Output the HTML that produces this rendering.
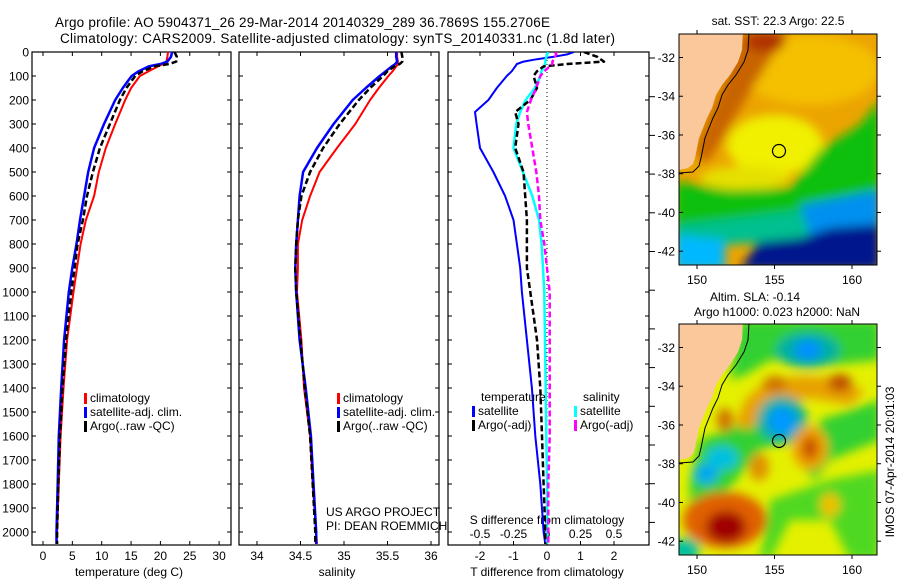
<!DOCTYPE html>
<html><head><meta charset="utf-8"><style>
html,body{margin:0;padding:0;background:#fff;}
svg{display:block;font-family:"Liberation Sans",sans-serif;}
</style></head><body>
<svg id="chart" width="900" height="580" viewBox="0 0 900 580">
<defs>
<clipPath id="c1"><rect x="32" y="52" width="199" height="493"/></clipPath>
<clipPath id="c2"><rect x="239" y="52" width="200" height="493"/></clipPath>
<clipPath id="c3"><rect x="448" y="52" width="201" height="493"/></clipPath>
<clipPath id="m1"><rect x="679" y="34" width="198" height="231"/></clipPath>
<clipPath id="m2"><rect x="679" y="324" width="198" height="231"/></clipPath>
<filter id="bl" x="-20%" y="-20%" width="140%" height="140%"><feGaussianBlur stdDeviation="5"/></filter>
</defs>
<text x="55" y="27" font-size="13.5" textLength="495">Argo profile: AO 5904371_26 29-Mar-2014 20140329_289 36.7869S 155.2706E</text>
<text x="60" y="43" font-size="13.5" textLength="555">Climatology: CARS2009. Satellite-adjusted climatology: synTS_20140331.nc (1.8d later)</text>

<!-- Map 1 SST -->
<g>
<text x="778" y="25" font-size="12" text-anchor="middle">sat. SST: 22.3 Argo: 22.5</text>
<g clip-path="url(#m1)">
<rect x="679" y="34" width="198" height="231" fill="#eca400"/>
<g filter="url(#bl)">
<ellipse cx="810" cy="70" rx="70" ry="35" fill="#f4c000"/>
<polygon points="745,30 790,30 770,60 745,100 722,140 705,165 695,150 720,90" fill="#c86400"/>
<ellipse cx="765" cy="42" rx="20" ry="10" fill="#b03000"/>
<ellipse cx="775" cy="145" rx="48" ry="30" fill="#f0f000"/>
<ellipse cx="745" cy="178" rx="45" ry="12" fill="#e6e000"/>
<polygon points="675,182 730,190 790,188 820,150 860,125 880,100 880,215 675,228" fill="#10c010"/>
<polygon points="675,225 760,215 880,200 880,235 675,248" fill="#00c090"/>
<polygon points="800,205 880,190 880,240 810,235" fill="#0090f0"/>
<polygon points="675,235 725,240 725,270 675,270" fill="#00b8ff"/>
<polygon points="740,270 758,242 800,238 830,228 880,224 880,270" fill="#00188c"/>
</g>
<polygon points="679,30 743,30 742,50 738,62 730,75 722,85 716,95 712,108 707,118 703,128 699,138 697,148 695,158 693,164 688,168 679,170" fill="#fac89a"/>
<polyline points="749,34 748,50 744,62 736,75 728,85 722,95 718,108 713,118 709,128 705,138 703,148 701,158 699,166 693,172 679,173" fill="none" stroke="#000" stroke-width="1"/>
<circle cx="779" cy="151" r="6.5" fill="none" stroke="#000" stroke-width="1.2"/>
</g>
<rect x="679" y="34" width="198" height="231" fill="none" stroke="#000"/>
</g>

<!-- Map 2 SLA -->
<g>
<text x="755" y="301" font-size="12" text-anchor="middle">Altim. SLA: -0.14</text>
<text x="777" y="316" font-size="12" text-anchor="middle">Argo h1000: 0.023 h2000: NaN</text>
<g clip-path="url(#m2)">
<rect x="679" y="324" width="198" height="231" fill="#e4f000"/>
<g filter="url(#bl)">
<polygon points="740,320 880,320 880,360 830,365 770,360 745,375 730,380" fill="#30d030"/>
<polygon points="690,480 700,440 740,425 760,400 800,395 790,440 760,450 720,500 690,505" fill="#30d030"/>
<polygon points="820,420 880,400 880,440 830,460 815,480 805,470" fill="#30d030"/>
<polygon points="770,500 830,480 880,470 880,560 850,560 830,520 790,520 770,560 760,560" fill="#50d820"/>
<ellipse cx="808" cy="350" rx="32" ry="18" fill="#00b0a0"/>
<ellipse cx="808" cy="350" rx="14" ry="10" fill="#0090ff"/>
<polygon points="735,425 745,400 765,382 800,376 840,378 865,392 850,405 810,398 770,405 750,430" fill="#e8a000"/>
<ellipse cx="840" cy="383" rx="12" ry="9" fill="#c05000"/>
<ellipse cx="775" cy="384" rx="12" ry="8" fill="#d07000"/>
<ellipse cx="725" cy="420" rx="8" ry="12" fill="#d07000"/>
<ellipse cx="782" cy="420" rx="25" ry="24" fill="#10b0a0"/>
<ellipse cx="782" cy="421" rx="14" ry="14" fill="#0098ff"/>
<ellipse cx="722" cy="458" rx="16" ry="12" fill="#00c0e0"/>
<ellipse cx="706" cy="474" rx="12" ry="10" fill="#00a8f0"/>
<ellipse cx="725" cy="520" rx="42" ry="28" fill="#e06000"/>
<ellipse cx="726" cy="527" rx="20" ry="16" fill="#a00000"/>
<ellipse cx="810" cy="448" rx="18" ry="22" fill="#f0a000"/>
<ellipse cx="810" cy="448" rx="8" ry="12" fill="#c85000"/>
<ellipse cx="759" cy="467" rx="10" ry="14" fill="#e09000"/>
<ellipse cx="685" cy="550" rx="15" ry="12" fill="#00c0a0"/>
<ellipse cx="830" cy="505" rx="10" ry="12" fill="#f0c000"/>
</g>
<polygon points="679,320 743,320 742,340 738,352 730,365 722,375 716,385 712,398 707,408 703,418 699,428 697,438 695,448 693,454 688,458 679,460" fill="#fac89a"/>
<polyline points="749,324 748,340 744,352 736,365 728,375 722,385 718,398 713,408 709,418 705,428 703,438 701,448 699,456 693,462 679,463" fill="none" stroke="#000" stroke-width="1"/>
<circle cx="779" cy="441" r="6.5" fill="none" stroke="#000" stroke-width="1.2"/>
</g>
<rect x="679" y="324" width="198" height="231" fill="none" stroke="#000"/>
</g>
<text transform="translate(894,462) rotate(-90)" font-size="12" text-anchor="middle">IMOS 07-Apr-2014 20:01:03</text>
<g id="dyn"></g>
</svg>
<script>
const depthTS = [0,20,40,50,60,80,100,150,200,300,400,500,600,700,800,900,1000,1200,1400,1600,1800,2000,2050];
const tempClim = [21.3,21.2,21.0,20.5,19.6,18.0,16.5,15.0,14.0,12.3,10.7,9.5,8.7,7.3,6.4,5.8,5.2,4.1,3.5,3.0,2.7,2.4,2.3];
const tempSat  = [22.0,21.8,21.2,20.0,18.0,16.3,15.1,13.6,12.3,10.4,8.7,7.7,7.0,6.3,5.7,5.0,4.4,3.6,3.1,2.7,2.5,2.3,2.3];
const tempArgo = [22.4,22.8,22.7,21.5,19.0,17.0,15.7,14.2,13.1,11.4,9.7,8.5,7.5,6.8,5.9,5.4,4.8,3.9,3.3,2.9,2.6,2.4,2.4];
const salClim = [35.61,35.61,35.62,35.62,35.60,35.56,35.51,35.40,35.30,35.13,34.92,34.72,34.61,34.52,34.47,34.47,34.46,34.51,34.54,34.61,34.64,34.68,34.69];
const salSat  = [35.60,35.60,35.61,35.59,35.55,35.48,35.41,35.25,35.10,34.88,34.69,34.53,34.49,34.47,34.45,34.44,34.45,34.49,34.56,34.62,34.65,34.68,34.68];
const salArgo = [35.66,35.67,35.67,35.64,35.58,35.50,35.45,35.30,35.17,34.95,34.76,34.61,34.51,34.47,34.45,34.44,34.45,34.50,34.55,34.61,34.64,34.67,34.67];
const depthDiff = [0,10,20,30,40,50,60,80,100,150,200,250,300,400,500,600,700,800,900,1000,1200,1400,1600,1800,2000,2050];
const dTsat  = [0.8,0.6,0.2,-0.3,-0.7,-0.9,-0.95,-1.05,-1.2,-1.5,-1.75,-2.15,-2.1,-2.0,-1.6,-1.25,-1.0,-0.9,-0.8,-0.75,-0.6,-0.45,-0.35,-0.2,-0.1,-0.05];
const dTargo = [1.1,1.3,1.5,1.6,1.7,0.6,-0.1,-0.3,-0.4,-0.3,-0.5,-0.95,-0.85,-0.95,-0.7,-0.65,-0.6,-0.6,-0.6,-0.5,-0.3,-0.2,-0.15,-0.1,-0.05,-0.05];
const dSsat  = [0.01,0.0,-0.005,-0.01,-0.012,-0.015,-0.02,-0.04,-0.05,-0.09,-0.16,-0.2,-0.23,-0.25,-0.18,-0.11,-0.06,-0.04,-0.03,-0.02,-0.015,-0.01,-0.005,0.0,0.0,0.0];
const dSargo = [0.06,0.07,0.06,0.05,0.04,0.04,0.02,-0.02,-0.05,-0.08,-0.12,-0.15,-0.14,-0.11,-0.08,-0.06,-0.05,-0.02,0.0,0.02,0.02,0.02,0.02,0.01,0.01,0.01];
const depthTicks = [0,100,200,300,400,500,600,700,800,900,1000,1100,1200,1300,1400,1500,1600,1700,1800,1900,2000];
const tempTicks = [0,5,10,15,20,25,30];
const salTicks = [34,34.5,35,35.5,36];
const dTTicks = [-2,-1,0,1,2];
const dSTicks = [-0.5,-0.25,0,0.25,0.5];
const latTicks = [-32,-34,-36,-38,-40,-42];
const lonTicks = [150,155,160];

const NS='http://www.w3.org/2000/svg';
const g=document.getElementById('dyn');
function el(t,a,p){const e=document.createElementNS(NS,t);for(const k in a)e.setAttribute(k,a[k]);(p||g).appendChild(e);return e;}
const yD = d => 52 + 0.24*d;
const xT = v => 43 + 5.87*v;
const xS = v => 257 + 87*(v-34);
const xdT = v => 547 + 33.5*v;
const xdS = v => 547 + 134*v;
const mapX = lon => 697 + 15.5*(lon-150);
const mapY = (lat,off) => off + 19.37*(-lat-32);

const panels=[{x:32,w:199,n:'temperature-panel'},{x:239,w:200,n:'salinity-panel'},{x:448,w:201,n:'difference-panel'}];
panels.forEach((p,i)=>{
  const r=el('rect',{x:p.x,y:52,width:p.w,height:493,fill:'none',stroke:'#000','stroke-width':1.2});
  
  
  depthTicks.forEach(d=>{
    el('line',{x1:p.x,x2:p.x+4,y1:yD(d),y2:yD(d),stroke:'#000'});
    el('line',{x1:p.x+p.w,x2:p.x+p.w-4,y1:yD(d),y2:yD(d),stroke:'#000'});
  });
});
depthTicks.forEach(d=>{
  const t=el('text',{x:29,y:yD(d)+4.5,'font-size':12,'text-anchor':'end'});t.textContent=d;
  
  
});
for(let y=58;y<546;y+=38.7) el('line',{x1:649,x2:655,y1:y,y2:y,stroke:'#000'});

function xAxis(ticks,fx,ylab,fmt){
  ticks.forEach(v=>{
    const x=fx(v);
    el('line',{x1:x,x2:x,y1:52,y2:56,stroke:'#000'});
    el('line',{x1:x,x2:x,y1:545,y2:541,stroke:'#000'});
    const t=el('text',{x:x,y:ylab,'font-size':12,'text-anchor':'middle'});t.textContent=fmt?fmt(v):v;
    
    
  });
}
xAxis(tempTicks,xT,560);
xAxis(salTicks,xS,560);
xAxis(dTTicks,xdT,560);
dSTicks.forEach(v=>{
  const t=el('text',{x:xdS(v),y:538,'font-size':12,'text-anchor':'middle'});t.textContent=v;
  
  
});
function lbl(x,y,s,name,anchor){const t=el('text',{x:x,y:y,'font-size':12,'text-anchor':anchor||'middle'});t.textContent=s;
  
  
  return t;}
lbl(129,576,'temperature (deg C)','x-axis-title-temperature');
lbl(337,576,'salinity','x-axis-title-salinity');
lbl(547,576,'T difference from climatology','x-axis-title-t-diff');
lbl(547,524,'S difference from climatology','x-axis-title-s-diff');

el('line',{x1:xdT(0),x2:xdT(0),y1:52,y2:545,stroke:'#000','stroke-dasharray':'1,3'});

function series(depths,vals,fx,color,dash,clip,name,w){
  const pts=depths.map((d,i)=>fx(vals[i]).toFixed(1)+','+yD(d).toFixed(1)).join(' ');
  const a={points:pts,fill:'none',stroke:color,'stroke-width':w||2.5,'clip-path':'url(#'+clip+')','stroke-linejoin':'round'};
  if(dash)a['stroke-dasharray']=dash;
  const l=el('polyline',a);
  
  
}
series(depthTS,tempClim,xT,'#ff0000',null,'c1','temp-climatology-line',2);
series(depthTS,tempSat,xT,'#0000ff',null,'c1','temp-satellite-line');
series(depthTS,tempArgo,xT,'#000',"6,3",'c1','temp-argo-line');
series(depthTS,salClim,xS,'#ff0000',null,'c2','sal-climatology-line',2);
series(depthTS,salSat,xS,'#0000ff',null,'c2','sal-satellite-line');
series(depthTS,salArgo,xS,'#000',"6,3",'c2','sal-argo-line');
series(depthDiff,dTsat,xdT,'#0000ff',null,'c3','t-diff-satellite-line',2);
series(depthDiff,dSsat,xdS,'#00ffff',null,'c3','s-diff-satellite-line');
series(depthDiff,dTargo,xdT,'#000',"6,3",'c3','t-diff-argo-line');
series(depthDiff,dSargo,xdS,'#ff00ff',"6,3",'c3','s-diff-argo-line');

function leg(x,y,color,txt,name){
  const r=el('rect',{x:x,y:y-9,width:3,height:11,fill:color});
  
  
  lbl(x+6,y,txt,name,'start');
}
[[84,'temp'],[337,'sal']].forEach(([x,n])=>{
  leg(x,402,'#ff0000','climatology',n+'-legend-climatology');
  leg(x,416,'#0000ff','satellite-adj. clim.',n+'-legend-satellite');
  leg(x,430,'#000','Argo(..raw -QC)',n+'-legend-argo');
});
lbl(481,401,'temperature','diff-legend-temp-header','start');
lbl(583,401,'salinity','diff-legend-sal-header','start');
leg(472,415,'#0000ff','satellite','diff-legend-temp-satellite');
leg(472,429,'#000','Argo(-adj)','diff-legend-temp-argo');
leg(574,415,'#00ffff','satellite','diff-legend-sal-satellite');
leg(574,429,'#ff00ff','Argo(-adj)','diff-legend-sal-argo');
lbl(326,516,'US ARGO PROJECT','project-credit','start');
lbl(326,530,'PI: DEAN ROEMMICH','pi-credit','start');

[34,324].forEach((top,mi)=>{
  const off = mi===0?57.5:347.5;
  latTicks.forEach(la=>{
    const y=mapY(la,off);
    el('line',{x1:679,x2:683,y1:y,y2:y,stroke:'#000'});
    el('line',{x1:877,x2:881,y1:y,y2:y,stroke:'#000'});
    lbl(675,y+4.5,la,'map-lat-label','end');
  });
  lonTicks.forEach(lo=>{
    const x=mapX(lo);
    el('line',{x1:x,x2:x,y1:top-4,y2:top,stroke:'#000'});
    el('line',{x1:x,x2:x,y1:top+231,y2:top+235,stroke:'#000'});
    lbl(x,top+250,lo,'map-lon-label');
  });
});
</script>
</body></html>
